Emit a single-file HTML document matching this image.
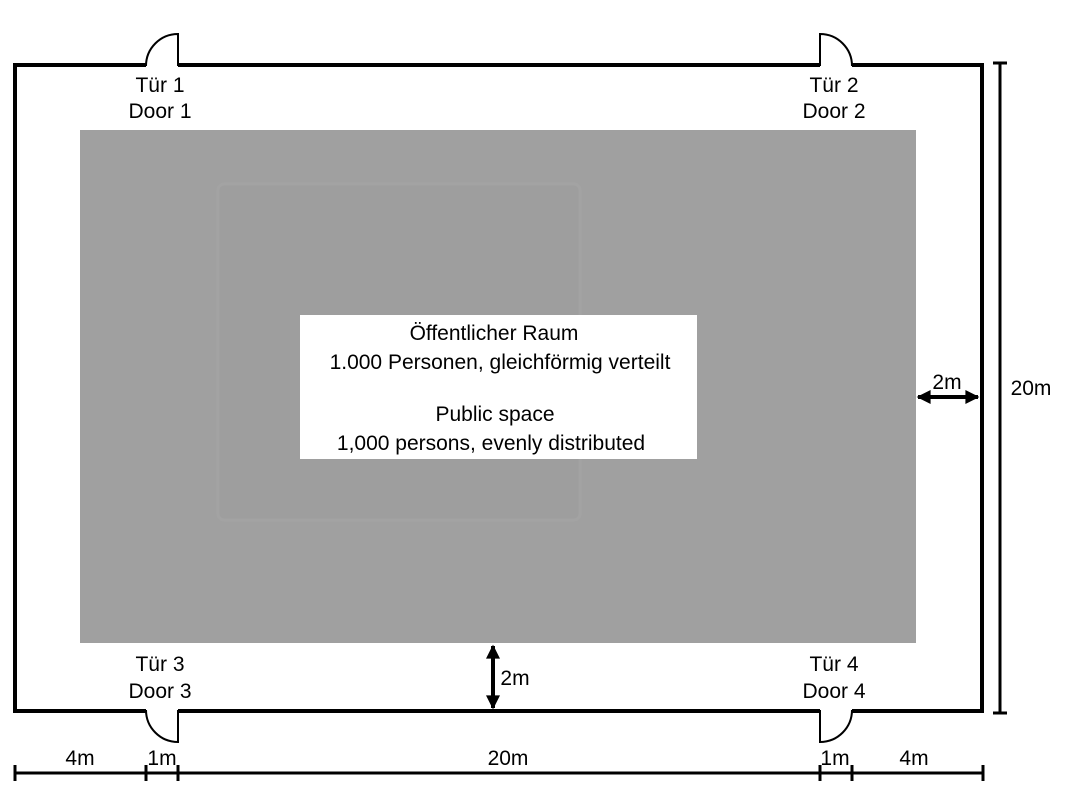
<!DOCTYPE html>
<html><head><meta charset="utf-8"><style>
html,body{margin:0;padding:0;background:#fff;width:1066px;height:792px;overflow:hidden}
svg{display:block}
text{font-family:"Liberation Sans","DejaVu Sans",sans-serif;font-size:21px;fill:#000;text-anchor:middle}
</style></head><body>
<svg width="1066" height="792" viewBox="0 0 1066 792">
<defs>
<marker id="a" viewBox="0 0 10 10" refX="9" refY="5" markerWidth="4.5" markerHeight="3.5" orient="auto-start-reverse"><path d="M0,0L10,5L0,10z" fill="#000"/></marker>
</defs>
<rect x="80" y="130" width="836" height="513" fill="#a0a0a0"/>
<rect x="218" y="184" width="362" height="336" fill="#9e9e9e" stroke="#a3a3a3" stroke-width="3" rx="6"/>
<rect x="300" y="315" width="397" height="144" fill="#fff"/>
<text x="494" y="340">Öffentlicher Raum</text>
<text x="500" y="369">1.000 Personen, gleichförmig verteilt</text>
<text x="495" y="421">Public space</text>
<text x="491" y="450">1,000 persons, evenly distributed</text>
<g fill="none" stroke="#000" stroke-width="4">
<path d="M146,65H15V711H146M178,711H820M852,711H982V65H852M820,65H178"/>
</g>
<g fill="none" stroke="#000" stroke-width="2">
<path d="M178,66V34A32,32 0 0 0 146,66"/>
<path d="M820,66V34A32,32 0 0 1 852,66"/>
<path d="M178,710V742A32,32 0 0 1 146,710"/>
<path d="M820,710V742A32,32 0 0 0 852,710"/>
</g>
<g stroke="#000" stroke-width="3">
<line x1="1000" y1="63" x2="1000" y2="713"/>
<line x1="993" y1="63" x2="1007" y2="63"/>
<line x1="993" y1="713" x2="1007" y2="713"/>
<line x1="15" y1="773" x2="983" y2="773"/>
<line x1="15" y1="765" x2="15" y2="781"/>
<line x1="146" y1="765" x2="146" y2="781"/>
<line x1="178" y1="765" x2="178" y2="781"/>
<line x1="820" y1="765" x2="820" y2="781"/>
<line x1="852" y1="765" x2="852" y2="781"/>
<line x1="983" y1="765" x2="983" y2="781"/>
</g>
<g stroke="#000" stroke-width="4">
<line x1="918" y1="397" x2="978" y2="397" marker-start="url(#a)" marker-end="url(#a)"/>
<line x1="493" y1="646" x2="493" y2="708" marker-start="url(#a)" marker-end="url(#a)"/>
</g>
<text x="160" y="92">Tür 1</text><text x="160" y="118">Door 1</text>
<text x="834" y="92">Tür 2</text><text x="834" y="118">Door 2</text>
<text x="160" y="671">Tür 3</text><text x="160" y="698">Door 3</text>
<text x="834" y="671">Tür 4</text><text x="834" y="698">Door 4</text>
<text x="947" y="389">2m</text>
<text x="1031" y="395">20m</text>
<text x="515" y="685">2m</text>
<text x="80" y="765">4m</text>
<text x="162" y="765">1m</text>
<text x="508" y="765">20m</text>
<text x="835" y="765">1m</text>
<text x="914" y="765">4m</text>
</svg>
</body></html>
